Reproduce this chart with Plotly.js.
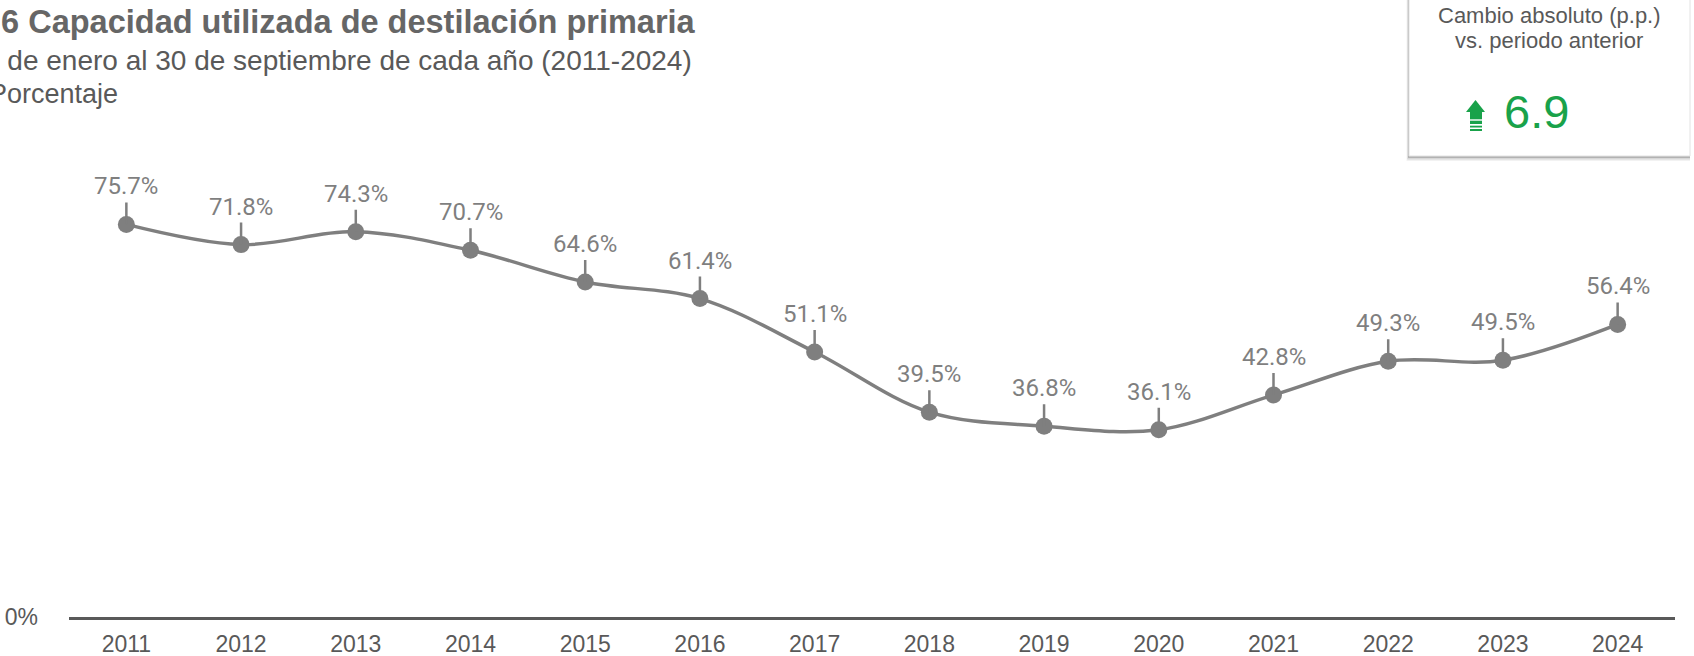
<!DOCTYPE html>
<html>
<head>
<meta charset="utf-8">
<script src="https://cdn.plot.ly/plotly-3.0.1.min.js"></script>
<style>
  html, body { margin: 0; padding: 0; background: #fff; }
  #chart { width: 1694px; height: 656px; }
</style>
</head>
<body>
<div id="chart"></div>
<script>
// values
const years = ['2011', '2012', '2013', '2014', '2015', '2016', '2017', '2018', '2019', '2020', '2021', '2022', '2023', '2024'];
const capacity = [75.7, 71.8, 74.3, 70.7, 64.6, 61.4, 51.1, 39.5, 36.8, 36.1, 42.8, 49.3, 49.5, 56.4];
const changeValue = 6.9;

const titleText = '1.6 Capacidad utilizada de destilación primaria';
const subtitleText = '1 de enero al 30 de septiembre de cada año (2011-2024)';
const unitText = 'Porcentaje';
const boxLines = ['Cambio absoluto (p.p.)', 'vs. periodo anterior'];

const W = 1694, H = 656;
const M = { l: 69, r: 19, t: 130, b: 39 };
const plotW = W - M.l - M.r;
const plotH = H - M.t - M.b;
const yTop = 93.9;

// pixel -> paper helpers for the decorations
const px = x => (x - M.l) / plotW;
const py = y => (H - M.b - y) / plotH;

const grey = '#7f7f7f';
const green = '#19a24a';
const sans = 'Liberation Sans, Arial, sans-serif';

const line = {
  x: years,
  y: capacity,
  type: 'scatter',
  mode: 'lines+markers',
  line: { color: grey, width: 3.5, shape: 'spline', smoothing: 1 },
  marker: { color: grey, size: 17 },
  hoverinfo: 'skip',
  cliponaxis: false
};

// value labels with a short leader line
const labels = years.map((yr, i) => ({
  x: i,
  y: capacity[i],
  xref: 'x',
  yref: 'y',
  text: capacity[i].toFixed(1) + '%',
  showarrow: true,
  arrowhead: 0,
  arrowwidth: 2.5,
  arrowcolor: grey,
  ax: 0,
  ay: -22,
  yanchor: 'bottom',
  font: { family: 'Roboto', size: 24, color: grey }
}));

const textNotes = [
  { text: '<b>' + titleText + '</b>', x: px(-28), y: py(22), size: 32.5, color: '#666666' },
  { text: subtitleText, x: px(-18), y: py(61), size: 28, color: '#595959' },
  { text: unitText, x: px(-13), y: py(94), size: 27, color: '#595959' }
].map(n => ({
  text: n.text, x: n.x, y: n.y, xref: 'paper', yref: 'paper',
  xanchor: 'left', yanchor: 'middle', showarrow: false,
  font: { family: sans, size: n.size, color: n.color }
}));

const boxNotes = [
  ...boxLines.map((t, i) => ({
    text: t, x: px(1549), y: py(16 + i * 24), xref: 'paper', yref: 'paper',
    xanchor: 'center', yanchor: 'middle', showarrow: false,
    font: { family: sans, size: 22, color: '#595959' }
  })),
  {
    text: String(changeValue), x: px(1502), y: py(111), xref: 'paper', yref: 'paper',
    xanchor: 'left', yanchor: 'middle', showarrow: false,
    font: { family: sans, size: 47, color: green }
  }
];

// card with soft shadow
const shadow = [5, 3.5, 2].map((d, i) => ({
  type: 'rect', xref: 'paper', yref: 'paper', layer: 'below',
  x0: px(1409 - d * 0.5), x1: px(1690), y0: py(-10), y1: py(156 + d),
  line: { width: 0 }, fillcolor: 'rgba(0,0,0,' + (0.05 + i * 0.06) + ')'
}));
const card = {
  type: 'rect', xref: 'paper', yref: 'paper', layer: 'below',
  x0: px(1409), x1: px(1690), y0: py(-10), y1: py(156),
  line: { width: 1, color: '#e2e2e2' }, fillcolor: '#ffffff'
};
const arrowHead = {
  type: 'path', xref: 'paper', yref: 'paper',
  path: 'M ' + px(1466) + ' ' + py(112) + ' L ' + px(1475.5) + ' ' + py(100) + ' L ' + px(1485) + ' ' + py(112) + ' Z',
  line: { width: 0 }, fillcolor: green
};
const arrowBars = [[112, 119.3], [120.7, 124], [125.7, 127.5], [129, 131]].map(b => ({
  type: 'rect', xref: 'paper', yref: 'paper',
  x0: px(1470), x1: px(1482), y0: py(b[1]), y1: py(b[0]),
  line: { width: 0 }, fillcolor: green
}));

const layout = {
  width: W,
  height: H,
  margin: M,
  paper_bgcolor: '#ffffff',
  plot_bgcolor: '#ffffff',
  showlegend: false,
  font: { family: sans, color: '#595959' },
  xaxis: {
    type: 'category',
    range: [-0.5, years.length - 0.5],
    showline: true,
    linecolor: '#595959',
    linewidth: 3,
    showgrid: false,
    zeroline: false,
    ticks: '',
    ticklabelstandoff: 4,
    tickfont: { size: 23, color: '#595959' },
    fixedrange: true
  },
  yaxis: {
    range: [0, yTop],
    tickvals: [0],
    ticktext: ['0%'],
    showgrid: false,
    zeroline: false,
    showline: false,
    ticks: '',
    ticklabelstandoff: 30,
    tickfont: { size: 23, color: '#595959' },
    fixedrange: true
  },
  shapes: [...shadow, card, arrowHead, ...arrowBars],
  annotations: [...textNotes, ...boxNotes, ...labels]
};

Plotly.newPlot('chart', [line], layout, { displayModeBar: false, staticPlot: true });
</script>
</body>
</html>
